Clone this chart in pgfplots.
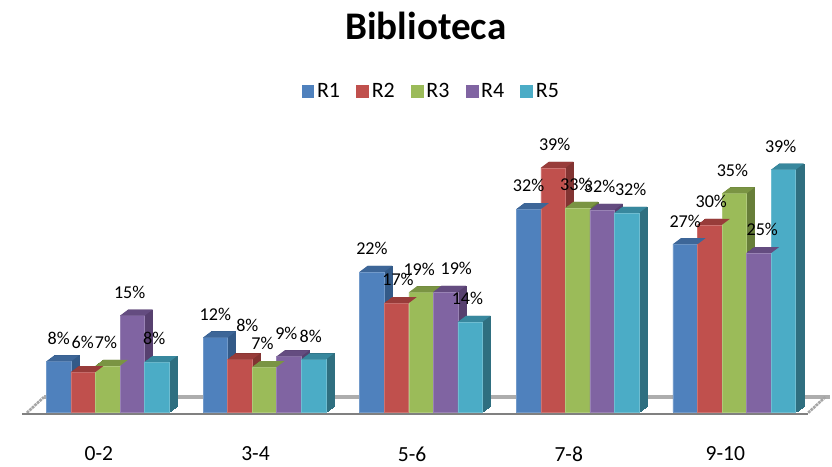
\documentclass[border=0pt]{standalone}
\usepackage{pgfplots}
\usepackage{pgfplotstable}
\pgfplotsset{compat=1.18}
\usepackage{fontspec}
\setmainfont{Carlito}
\definecolor{bA}{HTML}{4F81BD}\definecolor{bAt}{HTML}{3D6698}\definecolor{bAs}{HTML}{335A88}
\definecolor{bB}{HTML}{C0504D}\definecolor{bBt}{HTML}{983C3A}\definecolor{bBs}{HTML}{823432}
\definecolor{bC}{HTML}{9BBB59}\definecolor{bCt}{HTML}{7A9443}\definecolor{bCs}{HTML}{677E39}
\definecolor{bD}{HTML}{8064A2}\definecolor{bDt}{HTML}{644C80}\definecolor{bDs}{HTML}{57406F}
\definecolor{bE}{HTML}{4BACC6}\definecolor{bEt}{HTML}{38889E}\definecolor{bEs}{HTML}{2F6F80}
\pgfdeclareplotmark{top3d}{%
  \pgfpathmoveto{\pgfqpoint{-9.22pt}{0pt}}%
  \pgfpathlineto{\pgfqpoint{9.22pt}{0pt}}%
  \pgfpathlineto{\pgfqpoint{15.22pt}{4.5pt}}%
  \pgfpathlineto{\pgfqpoint{-3.22pt}{4.5pt}}%
  \pgfpathclose\pgfusepathqfill}
\pgfplotstableread{
R1 R2 R3 R4 R5
8.1 6.4 7.4 15.4 8.0
11.9 8.4 7.2 8.9 8.4
22.4 17.4 19.1 19.2 14.4
32.4 39.0 32.6 32.3 31.8
26.8 29.9 34.9 25.4 38.7
}\data
\newcommand\series[3]{%
  \pgfplotsinvokeforeach{1,...,8}{%
    \addplot[forget plot,ybar,bar width=0.1567,bar shift=0pt,fill=#3s,draw=#3s,line width=0.2pt,
      xshift=##1*0.75pt,yshift=##1*0.5625pt]
      table[x expr=\coordindex+#2,y=#1]{\data};}
  \addplot[forget plot,only marks,mark=top3d,mark options={fill=#3t,draw=none},color=#3t]
      table[x expr=\coordindex+#2,y=#1]{\data};
  \addplot[forget plot,ybar,bar width=0.1567,bar shift=0pt,fill=#3,draw=#3!80!white,line width=0.4pt]
      table[x expr=\coordindex+#2,y=#1]{\data};
}
\newcommand\labels[3]{%
  \addplot[forget plot,draw=none,mark=none,point meta=y,nodes near coords={\pgfmathprintnumber[fixed,precision=0,assume math mode=true]{\pgfplotspointmeta}\%},
    nodes near coords align={center},every node near coord/.append style={font=\fontsize{13.6pt}{15pt}\selectfont,text=black,anchor=center,yshift=17.5pt,inner sep=0pt},#3]
      table[x expr=\coordindex+#2,y=#1]{\data};
}
\begin{document}
\begin{tikzpicture}
\begin{axis}[
  scale only axis,width=624pt,height=348.75pt,
  xmin=-0.688,xmax=4.611,ymin=-8.28,ymax=65.76,
  clip=false,
  axis line style={draw=none},
  ytick=\empty,
  xtick={-0.057,0.943,1.943,2.943,3.943},
  xticklabels={0-2,3-4,5-6,7-8,9-10},
  major tick length=0pt,
  xticklabel style={font=\fontsize{16.2pt}{18pt}\selectfont,yshift=16.5pt,anchor=north},
  title={\fontsize{29.4pt}{32pt}\selectfont\bfseries Biblioteca},
  title style={at={(axis description cs:0.513,0.927)},anchor=center},
  legend columns=-1,
  legend style={draw=none,fill=none,at={(axis description cs:0.52,0.803)},anchor=center,
    font=\fontsize{16.5pt}{18pt}\selectfont,/tikz/every even column/.append style={column sep=10.2pt}},
  legend image code/.code={\fill[#1,draw=none] (0pt,-4.9pt) rectangle (9.6pt,4.9pt);},
]
\addlegendimage{fill=bA}\addlegendentry{R1}
\addlegendimage{fill=bB}\addlegendentry{R2}
\addlegendimage{fill=bC}\addlegendentry{R3}
\addlegendimage{fill=bD}\addlegendentry{R4}
\addlegendimage{fill=bE}\addlegendentry{R5}
% floor
\addplot[forget plot,color=black!32,line width=3pt,no marks] coordinates {(-0.408,2.4) (4.611,2.4)};
\addplot[forget plot,color=black!35,line width=2pt,dash pattern=on 2pt off 0.6pt,no marks] coordinates {(-0.516,-0.1) (-0.408,2.4)};
\addplot[forget plot,color=black!35,line width=2pt,dash pattern=on 2pt off 0.6pt,no marks] coordinates {(4.472,-0.1) (4.58,2.4)};
\addplot[forget plot,color=black!50,line width=1.5pt,no marks] coordinates {(-0.548,-0.35) (4.47,-0.35)};
\series{R1}{-0.3135}{bA}
\series{R2}{-0.157}{bB}
\series{R3}{0}{bC}
\series{R4}{0.157}{bD}
\series{R5}{0.3135}{bE}
\labels{R1}{-0.3135}{}
\labels{R2}{-0.147}{coordinate style/.condition={\coordindex==0}{xshift=-1.5pt,yshift=5pt},coordinate style/.condition={\coordindex==1}{xshift=4.5pt,yshift=8.5pt}}
\labels{R3}{-0.012}{}
\labels{R4}{0.14}{coordinate style/.condition={\coordindex==2}{xshift=10pt},coordinate style/.condition={\coordindex==4}{xshift=4.5pt}}
\labels{R5}{0.296}{coordinate style/.condition={\coordindex==3}{xshift=5pt}}
\end{axis}
\end{tikzpicture}
\end{document}
